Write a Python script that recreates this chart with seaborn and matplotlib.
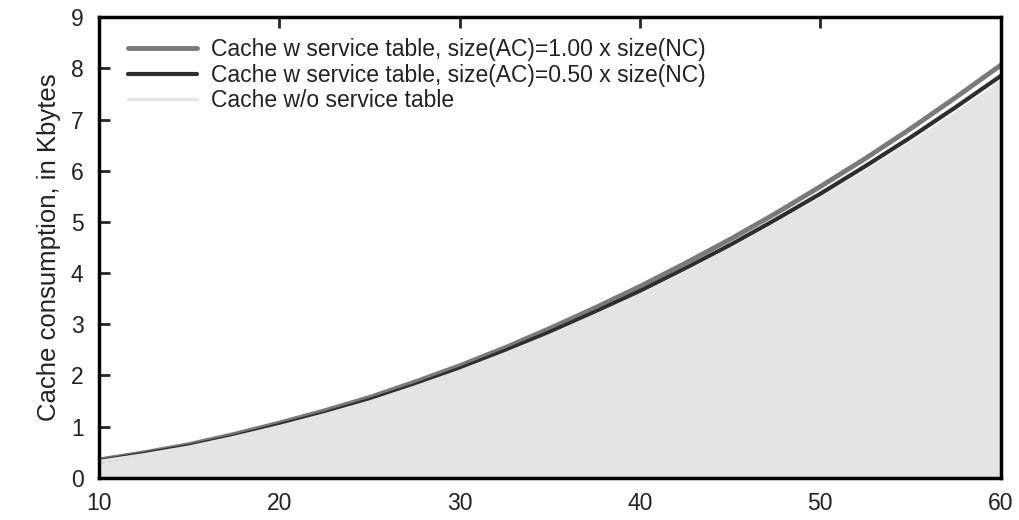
import seaborn as sns
import pandas as pd
import matplotlib.pyplot as plt

# values
nodes = [10, 12.5, 15, 17.5, 20, 22.5, 25, 27.5, 30, 32.5, 35,
         37.5, 40, 42.5, 45, 47.5, 50, 52.5, 55, 57.5, 60]
ac_100 = [0.35, 0.49, 0.65, 0.85, 1.07, 1.31, 1.57, 1.87, 2.19, 2.54, 2.92,
          3.32, 3.74, 4.19, 4.66, 5.16, 5.69, 6.24, 6.82, 7.43, 8.06]
ac_050 = [0.33, 0.47, 0.62, 0.81, 1.03, 1.26, 1.52, 1.81, 2.13, 2.48, 2.85,
          3.24, 3.65, 4.09, 4.55, 5.04, 5.55, 6.09, 6.65, 7.24, 7.85]
no_table = [0.32, 0.45, 0.60, 0.79, 1.00, 1.23, 1.48, 1.77, 2.08, 2.42, 2.78,
            3.17, 3.57, 4.01, 4.46, 4.94, 5.45, 5.98, 6.53, 7.11, 7.72]

labels = ["Cache w service table, size(AC)=1.00 x size(NC)",
          "Cache w service table, size(AC)=0.50 x size(NC)",
          "Cache w/o service table"]


def plot_cache():
    sns.set_style("ticks")
    plt.rcParams['font.family'] = ['Liberation Sans', 'DejaVu Sans']

    df = pd.DataFrame({"x": nodes * 3,
                       "y": ac_100 + ac_050 + no_table,
                       "series": [labels[0]] * len(nodes) + [labels[1]] * len(nodes)
                       + [labels[2]] * len(nodes)})

    fig = plt.figure(figsize=(10.19, 5.2), dpi=100)
    ax = fig.add_axes([0.097, 0.081, 0.885, 0.886])

    ax.fill_between(nodes, no_table, color="#e4e4e4", zorder=1)
    sns.lineplot(data=df, x="x", y="y", hue="series", ax=ax,
                 palette=["#7a7a7a", "#2e2e2e", "#e4e4e4"],
                 hue_order=labels, size="series", sizes=[3.5, 3, 2.5],
                 size_order=labels, zorder=2)

    ax.set_xlim(10, 60)
    ax.set_ylim(0, 9)
    ax.set_xticks([10, 20, 30, 40, 50, 60])
    ax.set_yticks(range(0, 10))
    ax.set_xlabel("")
    ax.set_ylabel("Cache consumption, in Kbytes", fontsize=18.5, color="#222222", labelpad=7)
    ax.tick_params(direction="in", length=8, width=2, labelsize=16.5, pad=11,
                   top=True, right=False, labelcolor="#222222")
    ax.tick_params(axis="x", pad=10)
    for sp in ax.spines.values():
        sp.set_linewidth(2.5)
        sp.set_color("black")

    leg = ax.legend(loc="upper left", frameon=False, fontsize=16.5,
                    handlelength=3.0, handletextpad=0.6, labelspacing=0.12,
                    borderaxespad=0.5, bbox_to_anchor=(0.01, 1.0))
    for t in leg.get_texts():
        t.set_color("#222222")

    plt.savefig("out.png", dpi=100)


if __name__ == "__main__":
    plot_cache()
